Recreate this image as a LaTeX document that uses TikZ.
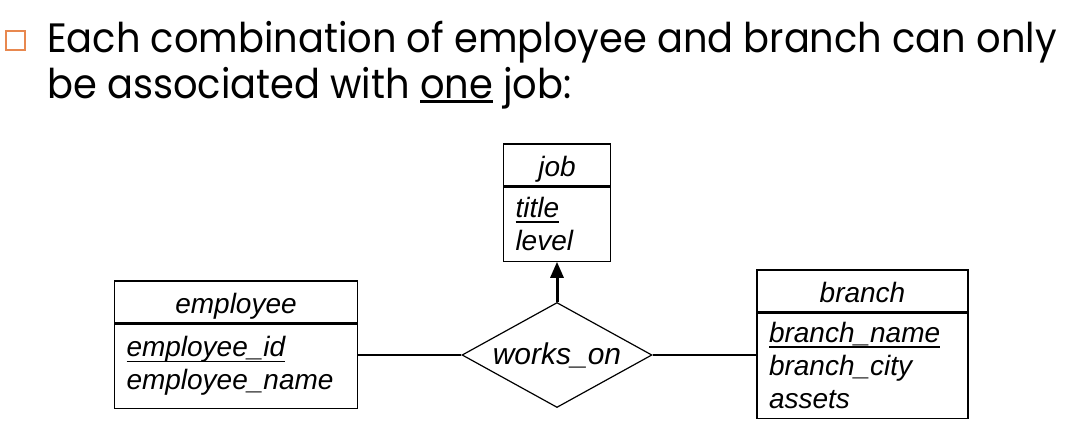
\documentclass[tikz,border=0pt]{standalone}
\usepackage{fontspec}
\setmainfont{Liberation Sans}
\newfontfamily\headfont[FakeStretch=0.936]{Poppins}
\usetikzlibrary{arrows.meta, positioning, shapes.geometric}
\definecolor{bullet-border}{HTML}{E8884F}
\definecolor{er-border}{HTML}{000000}
\definecolor{arrow}{HTML}{000000}
\newsavebox{\ulbox}
% underlined key attribute
\newcommand{\keyattr}[1]{\sbox{\ulbox}{#1}\rlap{\rule[-5pt]{\wd\ulbox}{1.4pt}}\usebox{\ulbox}}
% underlined word in the heading
\newcommand{\headul}[1]{\sbox{\ulbox}{#1}\rlap{\rule[-5pt]{\wd\ulbox}{3pt}}\usebox{\ulbox}}
\tikzset{
  heading/.style={inner sep=0pt, font=\headfont\fontsize{41}{46}\selectfont},
  bullet-box/.style={rectangle, draw=bullet-border, line width=2pt,
    minimum width=19pt, minimum height=19pt, inner sep=0pt},
  er-head/.style={rectangle, draw=er-border, line width=1.2pt, inner xsep=12pt,
    inner ysep=0pt, align=center, text height=26pt, text depth=3pt,
    font=\fontsize{28}{33}\selectfont\itshape},
  er-body/.style={rectangle, draw=er-border, line width=1.2pt, inner xsep=12pt,
    inner ysep=0pt, align=left, font=\fontsize{28}{33}\selectfont\itshape},
  er-rel/.style={diamond, draw=er-border, line width=1.2pt, inner sep=0pt,
    aspect=1.8, minimum width=190pt, minimum height=105pt,
    font=\fontsize{30}{34}\selectfont\itshape},
  er-edge/.style={draw=er-border, line width=1.1pt},
  er-arrow/.style={-{Triangle[length=16pt, width=13pt]}, line width=3pt, draw=arrow}
}
\begin{document}
\begin{tikzpicture}[x=1pt, y=-1pt]
  \useasboundingbox (0,0) rectangle (1069,432);

  % Heading
  \node[bullet-box] (bullet) at (15,40) {};
  \node[heading, anchor=base west] (line-1) at (47,52) {Each combination of employee and branch can only};
  \node[heading, anchor=base west] (line-2) at (47,98) {be associated with \headul{one} job:};

  % Entities
  \node[er-head, text width=83pt, minimum height=42pt] (job-head) at (557,165) {job};
  \node[er-body, text width=83pt, minimum height=74pt, below=0pt of job-head] (job-body)
    {\keyattr{title}\\level};

  \node[er-head, text width=219pt, minimum height=42pt] (emp-head) at (236,302) {employee};
  \node[er-body, text width=219pt, minimum height=84pt, below=0pt of emp-head] (emp-body)
    {\keyattr{employee\_id}\\employee\_name};

  \node[er-head, text width=187pt, minimum height=42pt] (branch-head) at (862.5,291) {branch};
  \node[er-body, text width=187pt, minimum height=105pt, below=0pt of branch-head] (branch-body)
    {\keyattr{branch\_name}\\branch\_city\\assets};

  % Relationship
  \node[er-rel] (works-on) at (557,355) {works\_on};

  % Connectors
  \draw[er-edge] (works-on.west) -- (works-on.west -| emp-body.east);
  \draw[er-edge] (works-on.east) -- (works-on.east -| branch-body.west);
  \draw[er-arrow] (works-on.north) -- (job-body.south);
\end{tikzpicture}
\end{document}
